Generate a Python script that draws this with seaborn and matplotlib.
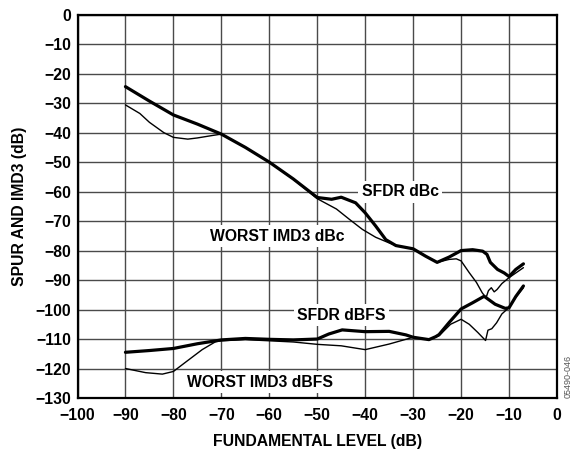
import matplotlib
matplotlib.use("Agg")
import matplotlib.pyplot as plt
import seaborn as sns
import pandas as pd

# ---- data ----
sfdr_dbc_x = [-90, -85, -80, -75, -70, -65, -60, -55, -50, -47, -45, -42, -40, -37.8, -35.7,
              -33.6, -30, -27.4, -25, -22.5, -20, -17.6, -15.5, -14.6, -13.9, -12.4, -11, -10,
              -8.6, -7]
sfdr_dbc_y = [-24.4, -29.3, -34, -37.1, -40.5, -45, -50, -55.7, -62, -62.6, -61.9, -63.8, -67.2,
              -71.7, -76.3, -78.3, -79.4, -81.9, -84, -82.2, -80, -79.7, -80.2, -81.3, -84, -86.4,
              -87.6, -88.8, -86.4, -84.5]

imd3_dbc_x = [-90, -87, -85, -82, -80, -77, -75, -72, -70, -65, -60, -55, -50, -46, -43.3, -40.6,
              -37.8, -35, -33.5, -30, -27.4, -25, -22.5, -21, -20, -18.3, -16.8, -15.6, -14.8,
              -14.3, -13.7, -13.1, -12.5, -11.5, -10.1, -8.6, -7]
imd3_dbc_y = [-30.6, -33.5, -36.5, -40, -41.6, -42.2, -41.8, -41, -40.5, -45, -50, -55.8, -62.4,
              -65.9, -69.4, -72.8, -75.5, -77.4, -78.3, -79.4, -81.9, -84, -83, -82.8, -83.5,
              -87.5, -90.8, -94.3, -96, -93.6, -92.6, -94, -93.2, -91.2, -89.3, -87.6, -85.8]

sfdr_dbfs_x = [-90, -85, -80, -75, -70, -65, -60, -55, -50, -47.6, -44.8, -40, -35, -31.5, -30,
               -26.7, -25.3, -24.6, -22.5, -20, -17.6, -15.2, -12.9, -10.8, -10, -8.6, -7]
sfdr_dbfs_y = [-114.5, -113.9, -113.2, -111.6, -110.3, -109.8, -110.1, -110.3, -110, -108.3,
               -106.9, -107.5, -107.4, -108.6, -109.4, -110.2, -109.2, -108.5, -104.4, -99.8,
               -97.7, -95.5, -98.2, -99.6, -99.4, -95.6, -92]

imd3_dbfs_x = [-90, -85.8, -82.3, -80, -77.5, -74, -71.2, -70, -65, -60, -55, -50, -45, -40, -35,
               -30, -26.7, -24.6, -22.2, -20, -18.3, -16.5, -14.9, -14.4, -13.6, -12.6, -11.5,
               -10, -8.6, -7]
imd3_dbfs_y = [-120, -121.4, -121.9, -121, -117.9, -113.6, -110.9, -110.6, -110.2, -110.6, -111,
               -111.8, -112.3, -113.6, -111.7, -109.4, -110.2, -108.9, -105, -103.3, -105, -107.8,
               -110.5, -107, -106.5, -104.5, -101.5, -99.3, -95.8, -92.6]

x_ticks = list(range(-100, 1, 10))
y_ticks = list(range(-130, 1, 10))

labels = [("SFDR dBc", -32.7, -60), ("WORST IMD3 dBc", -58.4, -75.2),
          ("SFDR dBFS", -45, -102), ("WORST IMD3 dBFS", -61.9, -124.6)]

# ---- style ----
sns.set_theme(style="white")
plt.rcParams["font.family"] = ["Liberation Sans", "DejaVu Sans"]
plt.rcParams["font.weight"] = "bold"
plt.rcParams["axes.unicode_minus"] = True

fig = plt.figure(figsize=(5.77, 4.49), dpi=100)
ax = fig.add_axes([77.5 / 577, 1 - 398 / 449, (557 - 77.5) / 577, (398 - 14.7) / 449])

series = [
    (sfdr_dbc_x, sfdr_dbc_y, 2.3),
    (imd3_dbc_x, imd3_dbc_y, 1.0),
    (sfdr_dbfs_x, sfdr_dbfs_y, 2.3),
    (imd3_dbfs_x, imd3_dbfs_y, 1.0),
]
for xs, ys, lw in series:
    df = pd.DataFrame({"x": xs, "y": ys})
    sns.lineplot(data=df, x="x", y="y", ax=ax, color="black", linewidth=lw,
                 sort=False, estimator=None, zorder=3)

ax.set_xlim(-100, 0)
ax.set_ylim(-130, 0)
ax.set_xticks(x_ticks)
ax.set_yticks(y_ticks)
ax.grid(True, color="#4a4a4a", linewidth=1.0, zorder=1)
ax.set_axisbelow(True)
for s in ax.spines.values():
    s.set_color("black")
    s.set_linewidth(1.6)
    s.set_zorder(4)
ax.tick_params(axis="both", length=0, labelsize=11.3, colors="black")
ax.tick_params(axis="x", pad=7)
ax.tick_params(axis="y", pad=4.5)
for t in ax.get_xticklabels() + ax.get_yticklabels():
    t.set_fontweight("bold")

ax.set_xlabel("FUNDAMENTAL LEVEL (dB)", fontsize=11.3, fontweight="bold", labelpad=8, color="black")
ax.set_ylabel("SPUR AND IMD3 (dB)", fontsize=11.3, fontweight="bold", labelpad=6, color="black")

for txt, lx, ly in labels:
    ax.text(lx, ly, txt, ha="center", va="center", fontsize=11.3, fontweight="bold",
            color="black", zorder=5,
            bbox=dict(facecolor="white", edgecolor="none", pad=2.5))

fig.text(568 / 577, 1 - 376 / 449, "05490-046", rotation=90, ha="center", va="center",
         fontsize=6.5, fontweight="normal", color="#555555")

fig.savefig("out.png", dpi=100)
